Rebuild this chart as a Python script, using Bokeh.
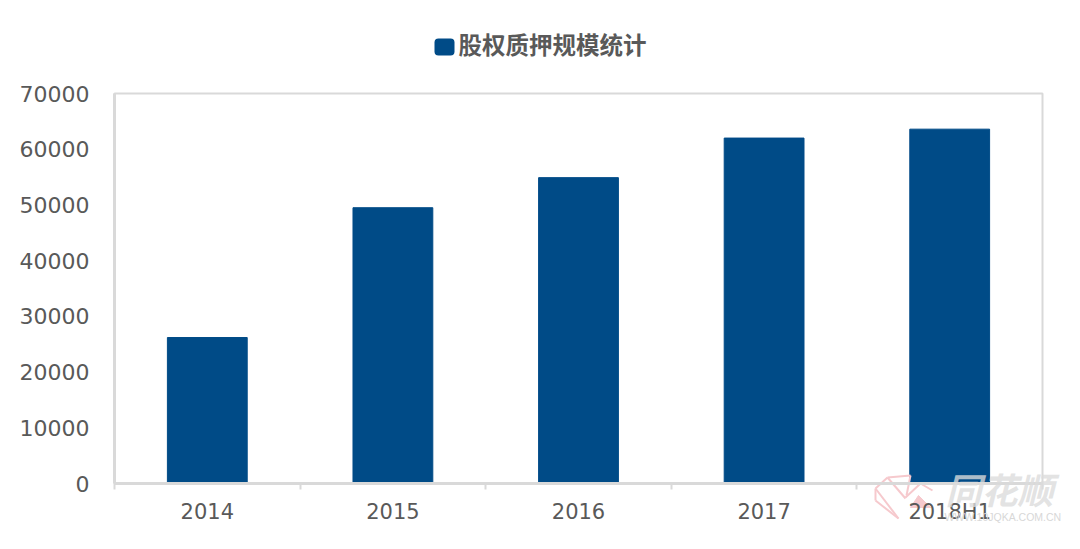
from bokeh.plotting import figure
from bokeh.models import Range1d, FixedTicker, BoxAnnotation, Label
from bokeh.embed import file_html
from bokeh.resources import INLINE

categories = ["2014", "2015", "2016", "2017", "2018H1"]
values = [26200, 49500, 54900, 62000, 63600]
y_ticks = [0, 10000, 20000, 30000, 40000, 50000, 60000, 70000]
legend_label = "股权质押规模统计"
watermark = "同花顺"
watermark_url = "WWW.10JQKA.COM.CN"

BLUE = "#004b87"
GREY = "#595959"
LINE = "#d9d9d9"
PINK = "#f6c9cd"

W, H = 1072, 541
LEFT, RIGHT, TOP, BOTTOM = 114, 1042, 93, 483
n = len(categories)
y_max = y_ticks[-1]
ux = n / (RIGHT - LEFT)
uy = y_max / (BOTTOM - TOP)

xs = [i + 0.5 for i in range(n)]
edges = list(range(n + 1))


def px_x(v):
    return (v - LEFT) * ux


def px_y(v):
    return (BOTTOM - v) * uy


# The frame fills the whole canvas, so that the legend and the watermark are not clipped
p = figure(width=W, height=H, output_backend="svg", toolbar_location=None,
           x_range=Range1d(-LEFT * ux, n + (W - RIGHT) * ux),
           y_range=Range1d(-(H - BOTTOM) * uy, y_max + TOP * uy),
           min_border=0, outline_line_color=None,
           background_fill_color="white", border_fill_color="white")
p.grid.visible = False

p.quad(left=[0], right=[n], bottom=[0], top=[y_max], fill_color=None,
       line_color=LINE, line_width=2)
bars = p.vbar(x=xs, top=values, width=0.43, color=BLUE)

# Watermark logo: a pink fan with a small triangle
fan_lines = [
    [(875, 488), (898, 518)],
    [(875, 488), (887, 477)],
    [(887, 477), (905, 498)],
    [(887, 477), (910, 475)],
    [(910, 475), (906, 495)],
    [(875, 500), (875, 488)],
    [(875, 500), (898, 518)],
    [(905, 497), (920, 483), (932, 490)],
]
p.multi_line(xs=[[px_x(a) for a, _ in l] for l in fan_lines],
             ys=[[px_y(b) for _, b in l] for l in fan_lines],
             line_color=PINK, line_width=2)
p.patch(x=[px_x(v) for v in (910, 918, 930)], y=[px_y(v) for v in (507, 495, 507)],
        fill_color=PINK, line_color=PINK)

xa = p.xaxis[0]
xa.fixed_location = 0
xa.bounds = (0, n)
xa.ticker = FixedTicker(ticks=xs, minor_ticks=edges)
xa.major_label_overrides = {x: c for x, c in zip(xs, categories)}
xa.major_tick_line_color = None
xa.minor_tick_out = 6
xa.minor_tick_in = 0
xa.minor_tick_line_color = LINE
xa.minor_tick_line_width = 2
xa.axis_line_color = LINE
xa.axis_line_width = 3
xa.major_label_text_font = "DejaVu Sans"
xa.major_label_text_font_size = "21px"
xa.major_label_text_color = GREY
xa.major_label_standoff = 10

ya = p.yaxis[0]
ya.fixed_location = 0
ya.bounds = (0, y_max)
ya.ticker = FixedTicker(ticks=y_ticks)
ya.major_tick_line_color = None
ya.minor_tick_line_color = None
ya.axis_line_color = LINE
ya.axis_line_width = 3
ya.major_label_text_font = "DejaVu Sans"
ya.major_label_text_font_size = "22px"
ya.major_label_text_color = GREY
ya.major_label_standoff = 19

p.add_layout(BoxAnnotation(left=434, right=454, top=H - 38, bottom=H - 55,
                           left_units="screen", right_units="screen",
                           top_units="screen", bottom_units="screen",
                           fill_color=BLUE, fill_alpha=1, line_color=None,
                           border_radius=4, editable=False))
p.add_layout(Label(x=458, y=H - 60, x_units="screen", y_units="screen", text=legend_label,
                   text_font="Noto Sans CJK SC", text_font_style="bold",
                   text_font_size="23.5px", text_color=GREY))

p.add_layout(Label(x=945, y=H - 513, x_units="screen", y_units="screen", text=watermark,
                   text_font="Noto Sans CJK SC", text_font_style="bold italic",
                   text_font_size="36px", text_color="#dcdcdc", text_alpha=0.8))
p.add_layout(Label(x=944, y=H - 522, x_units="screen", y_units="screen", text=watermark_url,
                   text_font="Liberation Sans", text_font_size="10.5px",
                   text_color="#d8d8d8"))

open("out.html", "w").write(file_html(p, INLINE))
